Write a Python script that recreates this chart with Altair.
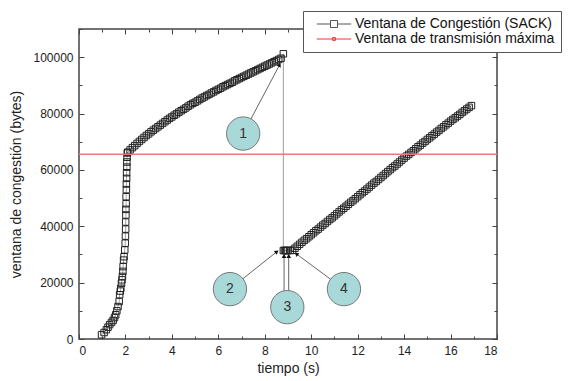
import altair as alt
import pandas as pd

S1 = "Ventana de Congestión (SACK)"
S2 = "Ventana de transmisión máxima"

# slow start
ss_t = [0.97, 1.08, 1.18, 1.25, 1.32, 1.40, 1.47, 1.53, 1.58, 1.63,
        1.68, 1.73, 1.75, 1.78, 1.80, 1.83, 1.85, 1.87, 1.89, 1.90,
        1.92, 1.94, 1.97, 1.99, 2.00, 2.01, 2.01, 2.02, 2.02, 2.03,
        2.03, 2.04, 2.04, 2.05, 2.05, 2.06, 2.06, 2.07, 2.08]
ss_w = [1500, 2300, 3300, 4200, 5100, 5900, 6600, 7600, 8600, 10000,
        11500, 13300, 15700, 17000, 18000, 19800, 21000, 22200, 24000, 25700,
        28000, 29200, 31600, 34000, 36500, 39000, 41500, 44000, 46000, 48000,
        50500, 53000, 55000, 57000, 59000, 61000, 62800, 64500, 66000]

# congestion avoidance 1
ca1_t = [2.1, 2.2, 2.3, 2.4, 2.5, 2.6, 2.7, 2.8, 2.9, 3.0,
         3.1, 3.2, 3.3, 3.4, 3.5, 3.6, 3.7, 3.8, 3.9, 4.0,
         4.1, 4.2, 4.3, 4.4, 4.5, 4.6, 4.7, 4.8, 4.9, 5.0,
         5.1, 5.2, 5.3, 5.4, 5.5, 5.6, 5.7, 5.8, 5.9, 6.0,
         6.1, 6.2, 6.3, 6.4, 6.5, 6.6, 6.7, 6.8, 6.9, 7.0,
         7.1, 7.2, 7.3, 7.4, 7.5, 7.6, 7.7, 7.8, 7.9, 8.0,
         8.1, 8.2, 8.3, 8.4, 8.5, 8.6, 8.7, 8.8]
ca1_w = [66300, 67100, 67900, 68600, 69400, 70100, 70800, 71500, 72200, 72800,
         73500, 74100, 74700, 75300, 75900, 76500, 77100, 77700, 78300, 78800,
         79400, 79900, 80500, 81000, 81500, 82000, 82600, 83100, 83600, 84000,
         84500, 85000, 85500, 85900, 86400, 86800, 87300, 87700, 88200, 88600,
         89000, 89500, 89900, 90300, 90700, 91100, 91600, 92000, 92400, 92800,
         93200, 93600, 94000, 94400, 94800, 95200, 95600, 96000, 96400, 96800,
         97200, 97600, 98000, 98400, 98800, 99200, 99600, 101200]

# recovery (flat)
rec_t = [8.80, 8.85, 8.90, 8.95, 9.00, 9.10]
rec_w = [31400, 31400, 31400, 31400, 31400, 31400]

# congestion avoidance 2
ca2_t = [9.2, 9.3, 9.4, 9.5, 9.6, 9.7, 9.8, 9.9, 10.0,
         10.1, 10.2, 10.3, 10.4, 10.5, 10.6, 10.7, 10.8, 10.9, 11.0,
         11.1, 11.2, 11.3, 11.4, 11.5, 11.6, 11.7, 11.8, 11.9, 12.0,
         12.1, 12.2, 12.3, 12.4, 12.5, 12.6, 12.7, 12.8, 12.9, 13.0,
         13.1, 13.2, 13.3, 13.4, 13.5, 13.6, 13.7, 13.8, 13.9, 14.0,
         14.1, 14.2, 14.3, 14.4, 14.5, 14.6, 14.7, 14.8, 14.9, 15.0,
         15.1, 15.2, 15.3, 15.4, 15.5, 15.6, 15.7, 15.8, 15.9, 16.0,
         16.1, 16.2, 16.3, 16.4, 16.5, 16.6, 16.7, 16.8, 16.9]
ca2_w = [31500, 32200, 32900, 33600, 34300, 35000, 35600, 36300, 37000,
         37700, 38400, 39000, 39700, 40400, 41000, 41700, 42400, 43000, 43700,
         44400, 45100, 45800, 46400, 47100, 47800, 48500, 49100, 49800, 50500,
         51200, 51900, 52500, 53200, 53900, 54600, 55300, 55900, 56600, 57300,
         58000, 58700, 59400, 60100, 60800, 61400, 62100, 62800, 63500, 64200,
         64900, 65500, 66200, 66800, 67500, 68200, 68800, 69500, 70100, 70800,
         71400, 72100, 72700, 73400, 74000, 74700, 75300, 76000, 76600, 77300,
         77900, 78500, 79100, 79700, 80400, 81000, 81600, 82200, 82800]

max_window = 65535

# annotations
circ_label = ["1", "2", "3", "4"]
circ_t = [7.07, 6.50, 8.97, 11.41]
circ_w = [72900, 17700, 11300, 17700]

arr_t0 = [7.07, 6.50, 8.83, 9.03, 11.41]
arr_w0 = [72900, 17700, 11300, 11300, 17700]
arr_t1 = [8.64, 8.52, 8.83, 9.03, 9.36]
arr_w1 = [97300, 31000, 29500, 29500, 30200]
arr_ang = [28, 52, 0, 0, 306]

x_labels = [0, 2, 4, 6, 8, 10, 12, 14, 16, 18]
x_ticks = list(range(0, 19))
y_labels = [0, 20000, 40000, 60000, 80000, 100000]
y_ticks = [0, 10000, 20000, 30000, 40000, 50000, 60000, 70000, 80000, 90000, 100000, 110000]

W, H = 418, 310
FONT = "Liberation Sans"

t_all = ss_t + ca1_t + rec_t + ca2_t
w_all = ss_w + ca1_w + rec_w + ca2_w
df = pd.DataFrame({"t": t_all, "w": w_all, "i": list(range(len(t_all)))})

xs = alt.Scale(domain=[0, 18], nice=False, zero=False)
ys = alt.Scale(domain=[0, 110000], nice=False)

xlab = alt.Axis(values=x_labels, ticks=False, domain=False, labelFontSize=12, labelPadding=6,
                title="tiempo (s)", titleFontSize=14, titlePadding=5, format="d", grid=False)
ylab = alt.Axis(values=y_labels, ticks=False, domain=False, labelFontSize=12, labelPadding=6,
                title="ventana de congestión (bytes)", titleFontSize=14, titlePadding=9,
                format="d", grid=False)

xcond = {"condition": {"test": "datum.value % 2 === 0", "value": 5}, "value": 3}
ycond = {"condition": {"test": "datum.value % 20000 === 0", "value": 5}, "value": 3}

def xt(orient):
    return alt.Axis(orient=orient, offset=-H, values=x_ticks, labels=False, domain=False,
                    title=None, tickSize=xcond, tickColor="#444", tickWidth=1, grid=False)

def yt(orient):
    return alt.Axis(orient=orient, offset=-W, values=y_ticks, labels=False, domain=False,
                    title=None, tickSize=ycond, tickColor="#444", tickWidth=1, grid=False)

line = alt.Chart(df).mark_line(color="#888", strokeWidth=0.8).encode(
    x=alt.X("t:Q", scale=xs, axis=xlab),
    y=alt.Y("w:Q", scale=ys, axis=ylab),
    order=alt.Order("i:Q"),
)

pts = alt.Chart(df).mark_point(shape="square", size=42, filled=False,
                               color="#222", strokeWidth=1.0, opacity=1).encode(
    x=alt.X("t:Q", scale=xs, axis=xt("top")),
    y=alt.Y("w:Q", scale=ys, axis=yt("right")),
)

red_df = pd.DataFrame({"x0": [0], "x1": [18], "y": [max_window]})
red = alt.Chart(red_df).mark_rule(color="#ee7777", strokeWidth=1.5).encode(
    x=alt.X("x0:Q", scale=xs, axis=xt("bottom")),
    x2="x1:Q",
    y=alt.Y("y:Q", scale=ys, axis=yt("left")),
)

arr_df = pd.DataFrame({"t0": arr_t0, "w0": arr_w0, "t1": arr_t1, "w1": arr_w1, "ang": arr_ang})
arrows = alt.Chart(arr_df).mark_rule(color="#666", strokeWidth=1).encode(
    x=alt.X("t0:Q", scale=xs, axis=None), x2="t1:Q",
    y=alt.Y("w0:Q", scale=ys, axis=None), y2="w1:Q",
)
heads = alt.Chart(arr_df).mark_point(shape="triangle-up", filled=True, color="#111",
                                     size=22, opacity=1).encode(
    x=alt.X("t1:Q", scale=xs, axis=None),
    y=alt.Y("w1:Q", scale=ys, axis=None),
    angle=alt.Angle("ang:Q", scale=None),
)

circ_df = pd.DataFrame({"t": circ_t, "w": circ_w, "lab": circ_label})
circles = alt.Chart(circ_df).mark_point(shape="circle", size=1110, filled=True, fill="#a9d8d9",
                                        stroke="#777", strokeWidth=1, opacity=1).encode(
    x=alt.X("t:Q", scale=xs, axis=None),
    y=alt.Y("w:Q", scale=ys, axis=None),
)
ctext = alt.Chart(circ_df).mark_text(font=FONT, fontSize=14, color="#333").encode(
    x=alt.X("t:Q", scale=xs, axis=None),
    y=alt.Y("w:Q", scale=ys, axis=None),
    text="lab:N",
)

path1 = "M-4.9,0H-1M1,0H4.9M-1,-1H1V1H-1Z"
path2 = "M-4.9,0H4.9M-0.4,-0.4H0.4V0.4H-0.4Z"
leg = alt.Legend(orient="none", legendX=224, legendY=-18, title=None, strokeColor="#555",
                 fillColor="white", padding=6, labelFont=FONT, labelFontSize=14,
                 labelColor="#111", labelLimit=400, symbolSize=49, symbolStrokeWidth=1,
                 symbolOffset=18, labelOffset=14, symbolOpacity=1, rowPadding=1)
leg_df = pd.DataFrame({"serie": [S1, S2], "t": [5, 5], "w": [50000, 50000]})
legend_layer = alt.Chart(leg_df).mark_point(filled=False, opacity=0, size=49).encode(
    x=alt.X("t:Q", scale=xs, axis=None),
    y=alt.Y("w:Q", scale=ys, axis=None),
    color=alt.Color("serie:N", scale=alt.Scale(domain=[S1, S2], range=["#555", "#e33"]), legend=leg),
    shape=alt.Shape("serie:N", scale=alt.Scale(domain=[S1, S2], range=[path1, path2]), legend=leg),
)

chart = alt.layer(line, pts, red, arrows, heads, circles, ctext, legend_layer).resolve_axis(
    x="independent", y="independent"
).properties(
    width=W, height=H,
    padding={"left": 79, "top": 29, "right": 73, "bottom": 42},
    autosize=alt.AutoSizeParams(type="none"),
    background="white",
).configure_view(stroke="#444", strokeWidth=1.5).configure_axis(
    labelFont=FONT, titleFont=FONT, labelColor="#222", titleColor="#222",
    titleFontWeight="normal", grid=False,
)

chart.save("out.html", embed_options={"renderer": "svg", "actions": False})
